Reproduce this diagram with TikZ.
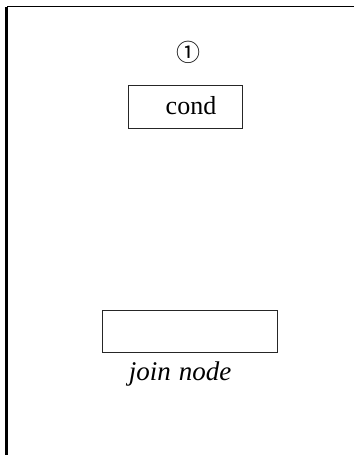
\documentclass[tikz,border=0pt]{standalone}
\usepackage{fontspec}
\setmainfont{Liberation Serif}
\newfontfamily\symfont{Noto Sans CJK SC}
\begin{document}
\begin{tikzpicture}[x=1pt,y=-1pt,
  boxstyle/.style={draw=black!85,line width=1.4pt,inner sep=0pt,anchor=north west},
  frameline/.style={draw=black,line width=2.4pt}]
\useasboundingbox (0,0) rectangle (354,455);
\coordinate (tl) at (6.5,6.5);
\coordinate (tr) at (354,6.5);
\coordinate (bl) at (6.5,455);
\draw[frameline,line width=1.8pt] (tr) -- (tl);
\draw[frameline] (tl) -- (bl);
\node (num) at (188,52) {\symfont\fontsize{24}{28}\selectfont ①};
\node[boxstyle,minimum width=114pt,minimum height=43pt] (cond) at (128,85) {};
\node (condtext) at (191,106) {\fontsize{26}{30}\selectfont cond};
\node[boxstyle,minimum width=175pt,minimum height=42pt] (join) at (102,310) {};
\node (jointext) at (180,374) {\fontsize{27}{30}\selectfont\itshape join\hspace{8pt}node};
\end{tikzpicture}
\end{document}
